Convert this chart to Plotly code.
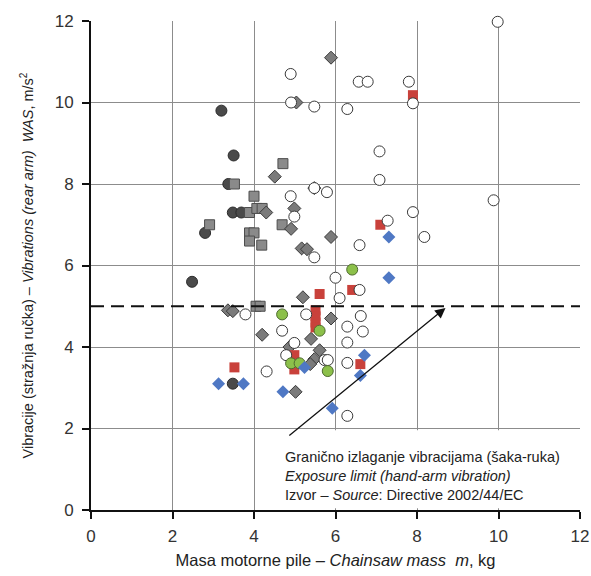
import plotly.graph_objects as go

# Chainsaw mass (kg) vs. rear-handle vibration WAS (m/s^2), grouped by marker series
dark_x = [3.20, 3.50, 3.37, 3.48, 3.69, 2.80, 2.48, 3.48]
dark_y = [9.80, 8.70, 8.00, 7.30, 7.30, 6.80, 5.60, 3.10]

gsq_x = [3.52, 2.91, 4.00, 3.89, 4.07, 4.20, 4.71, 3.89, 4.00, 3.89, 4.19, 4.69, 4.05, 4.15]
gsq_y = [8.00, 7.00, 7.70, 7.30, 7.40, 7.40, 8.50, 6.80, 6.80, 6.60, 6.50, 7.00, 5.00, 5.00]

gdm_x = [4.51, 4.30, 4.99, 4.91, 5.17, 5.30, 5.48, 5.04, 5.89, 5.89, 3.36, 3.48, 4.20,
         5.20, 5.89, 5.40, 5.61, 5.48, 5.38, 4.87, 5.02]
gdm_y = [8.18, 7.30, 7.40, 6.90, 6.42, 6.40, 7.90, 10.00, 11.10, 6.70, 4.90, 4.88, 4.30,
         5.22, 4.70, 4.20, 3.92, 3.70, 3.58, 4.00, 2.90]

red_x = [3.52, 7.90, 7.10, 6.41, 5.61, 5.51, 5.51, 5.51, 5.51, 4.99, 4.99, 4.99, 6.61]
red_y = [3.50, 10.18, 7.00, 5.40, 5.30, 4.90, 4.75, 4.60, 4.48, 3.80, 3.62, 3.45, 3.58]

open_x = [9.98, 4.90, 4.91, 5.48, 6.29, 6.57, 6.79, 7.80, 7.90, 7.08, 7.08, 9.88, 7.90,
          8.18, 7.28, 6.59, 5.79, 5.48, 4.90, 4.99, 5.48, 6.00, 6.59, 6.10, 3.79, 5.28,
          4.69, 4.99, 4.79, 4.31, 5.73, 5.81, 6.29, 6.29, 6.29, 6.62, 6.67, 6.29]
open_y = [11.98, 10.70, 10.00, 9.90, 9.84, 10.51, 10.51, 10.51, 9.98, 8.80, 8.10, 7.60, 7.31,
          6.70, 7.10, 6.50, 7.80, 7.90, 7.70, 7.20, 6.20, 5.70, 5.40, 5.20, 4.80, 4.80,
          4.40, 4.10, 3.80, 3.40, 3.68, 3.68, 4.50, 4.11, 3.61, 4.76, 4.38, 2.31]

green_x = [4.69, 6.41, 5.61, 4.91, 5.12, 5.81]
green_y = [4.80, 5.90, 4.40, 3.60, 3.60, 3.41]

blue_x = [3.13, 3.74, 4.71, 5.24, 5.92, 6.61, 6.71, 7.31, 7.31]
blue_y = [3.10, 3.10, 2.90, 3.50, 2.50, 3.30, 3.80, 6.70, 5.70]

limit_was = 5.0
x_ticks = [0, 2, 4, 6, 8, 10, 12]
y_ticks = [0, 2, 4, 6, 8, 10, 12]

FONT = "Liberation Sans, Arial, sans-serif"

fig = go.Figure()

def add_series(xs, ys, symbol, size, fill, line_color, line_width):
    fig.add_trace(go.Scatter(
        x=xs, y=ys, mode="markers", showlegend=False, cliponaxis=False,
        marker=dict(symbol=symbol, size=size, color=fill,
                    line=dict(color=line_color, width=line_width)),
    ))

add_series(dark_x, dark_y, "circle", 11, "#4a4a4a", "#2b2b2b", 1)
add_series(gsq_x, gsq_y, "square", 10, "#8a8a8a", "#4d4d4d", 1)
add_series(gdm_x, gdm_y, "diamond", 10, "#7b7b7b", "#3a3a3a", 1)
add_series(red_x, red_y, "square", 10, "#c9413b", "#c9413b", 0)
add_series(open_x, open_y, "circle", 11, "#ffffff", "#3a3a3a", 1)
add_series(green_x, green_y, "circle", 11, "#8cc04a", "#4f6b30", 1)
add_series(blue_x, blue_y, "diamond", 10, "#4f78c4", "#4f78c4", 0)

# Exposure limit line
fig.add_shape(type="line", xref="x", yref="y", x0=0, x1=12, y0=limit_was, y1=limit_was,
              line=dict(color="#111111", width=2, dash="13px,7px"), layer="above")

# White panel behind the note text
fig.add_shape(type="rect", xref="x", yref="y", x0=4.62, x1=11.97, y0=0.04, y1=1.96,
              fillcolor="white", line=dict(width=0), layer="between")

# Arrow pointing to the limit line
fig.add_annotation(x=8.7, y=limit_was - 0.04, ax=4.83, ay=1.8, xref="x", yref="y",
                   axref="x", ayref="y", showarrow=True, arrowhead=2, arrowsize=1.6,
                   arrowwidth=1.3, arrowcolor="#111111", text="")

fig.add_annotation(
    x=4.70, y=0.83, xref="x", yref="y", xanchor="left", yanchor="middle",
    align="left", showarrow=False,
    text=("Granično izlaganje vibracijama (šaka-ruka)<br>"
          "<i>Exposure limit (hand-arm vibration)</i><br>"
          "Izvor – <i>Source</i>: Directive 2002/44/EC"),
    font=dict(family=FONT, size=14.5, color="#222222"),
)

axis_common = dict(
    range=[0, 12], tickvals=x_ticks, showgrid=True, gridcolor="#8c8c8c", gridwidth=1,
    zeroline=False, showline=True, linecolor="#111111", linewidth=2, automargin=False,
    ticks="outside", ticklen=7, tickwidth=1.5, tickcolor="#111111",
    tickfont=dict(family=FONT, size=17, color="#333333"),
)

fig.update_xaxes(**axis_common, ticklabelstandoff=3,
                 title=dict(text="Masa motorne pile – <i>Chainsaw mass\u00a0\u00a0m</i>, kg",
                            font=dict(family=FONT, size=16.5, color="#222222"), standoff=9))
fig.update_yaxes(**{**axis_common, "tickvals": y_ticks}, ticklabelstandoff=5,
                 title=dict(text="Vibracije (stražnja ručka) – <i>Vibrations (rear arm)\u00a0\u00a0WAS</i>, m/s<sup>2</sup>",
                            font=dict(family=FONT, size=14.5, color="#222222"), standoff=18))

fig.update_layout(
    width=591, height=576,
    margin=dict(l=91, r=11, t=21, b=66, autoexpand=False),
    plot_bgcolor="white", paper_bgcolor="white",
)

fig.write_html("out.html")
